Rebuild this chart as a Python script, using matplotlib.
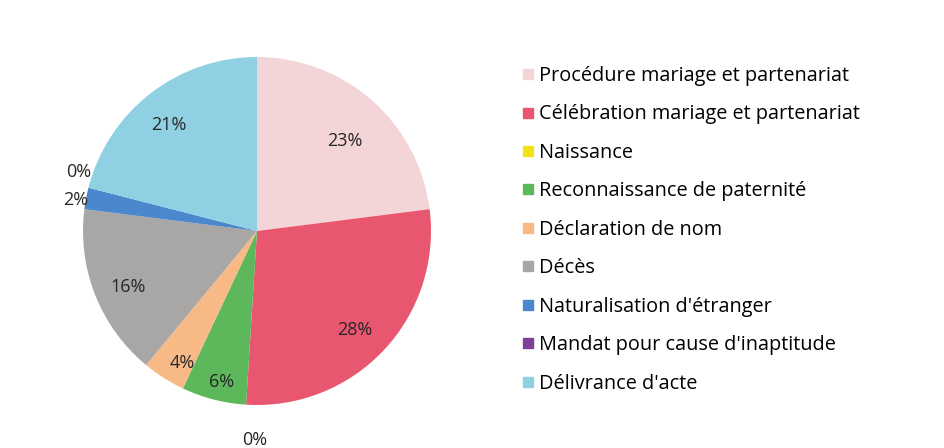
import matplotlib
matplotlib.use("Agg")
import numpy as np
import matplotlib.pyplot as plt
from matplotlib.lines import Line2D

plt.rcParams['font.family'] = ['Open Sans', 'DejaVu Sans']

categories = [
    "Procédure mariage et partenariat",
    "Célébration mariage et partenariat",
    "Naissance",
    "Reconnaissance de paternité",
    "Déclaration de nom",
    "Décès",
    "Naturalisation d'étranger",
    "Mandat pour cause d'inaptitude",
    "Délivrance d'acte",
]
shares = [23, 28, 0, 6, 4, 16, 2, 0, 21]
colors = ["#f4d5d7", "#e9566f", "#f2e21c", "#5cb85a", "#f7b985",
          "#a8a7a6", "#4a87cc", "#7e3f99", "#8fd0e2"]
# label placement: distance from centre (fraction of radius) and angle shift (deg)
label_dist = [0.72, 0.80, 1.20, 0.89, 0.87, 0.81, 1.06, 1.08, 0.79]
label_shift = [-3, -2, 3, 1, 3, 2, 1, -4, 2]

W, H = 944, 448
fig = plt.figure(figsize=(W / 100, H / 100), dpi=100)
fig.patch.set_facecolor("white")

cx, cy, r = 257, 448 - 231, 174
ax = fig.add_axes([(cx - r) / W, (cy - r) / H, 2 * r / W, 2 * r / H])
wedges, _ = ax.pie(shares, colors=colors, startangle=90, counterclock=False,
                   radius=1, wedgeprops=dict(linewidth=0))
ax.set_xlim(-1, 1)
ax.set_ylim(-1, 1)
ax.axis("off")

for w, val, d, s in zip(wedges, shares, label_dist, label_shift):
    ang = np.deg2rad((w.theta1 + w.theta2) / 2 + s)
    ax.text(d * np.cos(ang), d * np.sin(ang), f"{val}%", ha="center", va="center",
            fontsize=13, color="#262626", clip_on=False)

handles = [Line2D([], [], marker="s", linestyle="none", markersize=7,
                  markerfacecolor=c, markeredgecolor=c) for c in colors]
fig.legend(handles, categories, loc="upper left",
           bbox_to_anchor=(523 / W, 1 - 66 / H), frameon=False,
           fontsize=14.3, labelspacing=0.93, handlelength=0.5, handletextpad=0.3,
           borderaxespad=0, borderpad=0)

fig.savefig("out.png", dpi=100, facecolor="white")
